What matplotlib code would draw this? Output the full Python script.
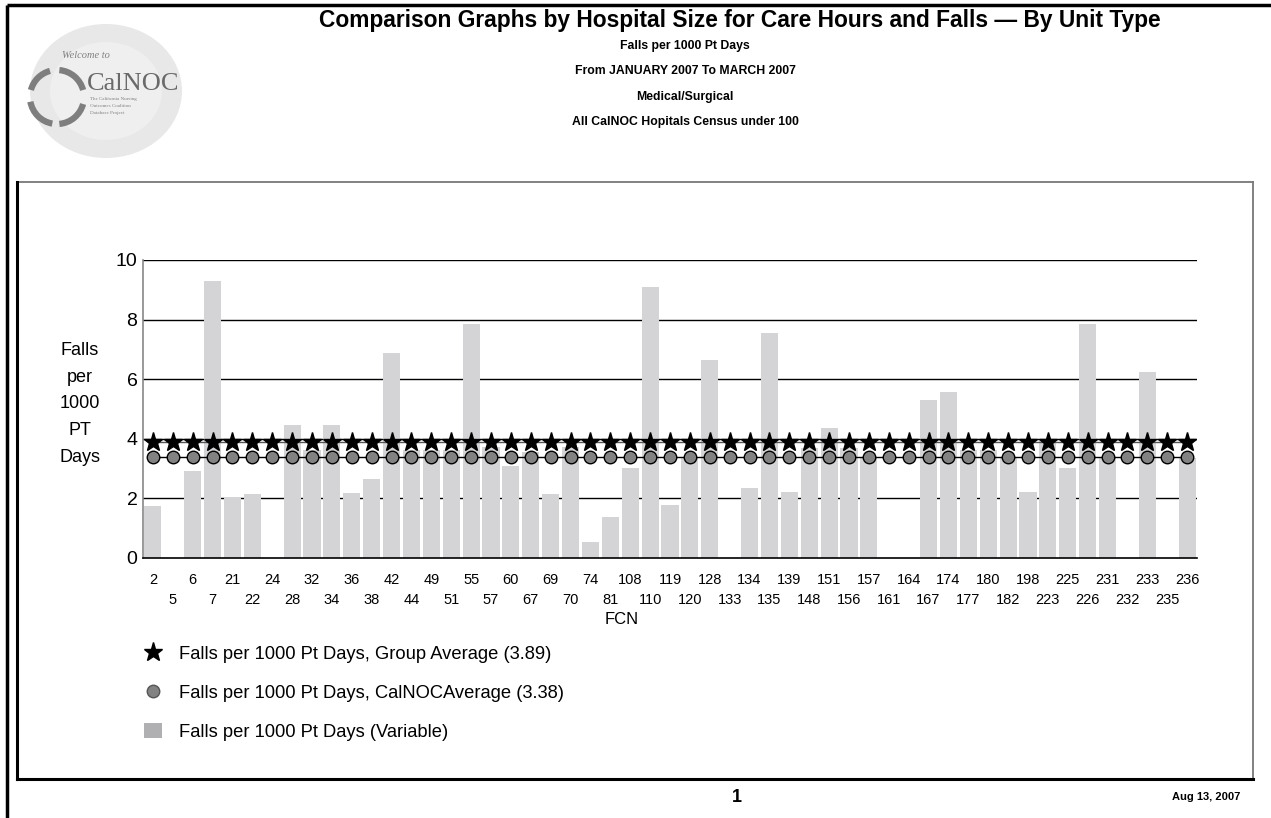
import matplotlib
matplotlib.use("Agg")
import matplotlib.pyplot as plt
from matplotlib.lines import Line2D
from matplotlib.patches import Patch, Ellipse, Arc

plt.rcParams['font.family'] = ['Liberation Sans', 'DejaVu Sans']

# ---------------- data ----------------
fcn = ["2", "5", "6", "7", "21", "22", "24", "28", "32", "34", "36", "38", "42", "44",
       "49", "51", "55", "57", "60", "67", "69", "70", "74", "81", "108", "110", "119",
       "120", "128", "133", "134", "135", "139", "148", "151", "156", "157", "161", "164",
       "167", "174", "177", "180", "182", "198", "223", "225", "226", "231", "232", "233",
       "235", "236"]
falls = [1.74, 0, 2.92, 9.31, 2.05, 2.15, 0, 4.47, 3.63, 4.47, 2.18, 2.65, 6.88, 3.63,
         3.63, 3.63, 7.84, 3.72, 3.08, 3.55, 2.14, 3.72, 0.53, 1.39, 3.02, 9.09, 1.77,
         3.39, 6.66, 0, 2.36, 7.54, 2.20, 3.68, 4.35, 3.68, 3.37, 0, 0,
         5.29, 5.58, 3.62, 3.62, 3.37, 2.20, 3.95, 3.02, 7.84, 3.37, 0, 6.25,
         0, 3.37]
group_avg = 3.89
calnoc_avg = 3.38
yticks = [0, 2, 4, 6, 8, 10]

title = "Comparison Graphs by Hospital Size for Care Hours and Falls \u2014 By Unit Type"
subtitles = ["Falls per 1000 Pt Days", "From JANUARY 2007 To MARCH 2007",
             "Medical/Surgical", "All CalNOC Hopitals Census under 100"]
legend_labels = ["Falls per 1000 Pt Days, Group Average (3.89)",
                 "Falls per 1000 Pt Days, CalNOCAverage (3.38)",
                 "Falls per 1000 Pt Days (Variable)"]

W, H = 1271, 818
fig = plt.figure(figsize=(W / 100, H / 100), dpi=100)

# ---------------- page decoration overlay (pixel coords) ----------------
bg = fig.add_axes([0, 0, 1, 1], zorder=0)
bg.set_xlim(0, W)
bg.set_ylim(H, 0)
bg.axis('off')

# outer page lines
bg.plot([7, W], [5, 5], color='black', lw=2.5, solid_capstyle='butt')
bg.plot([7, 7], [5, H], color='black', lw=2.5, solid_capstyle='butt')
# inner box
bg.plot([17, 1253], [182, 182], color='#777777', lw=1.3)
bg.plot([1253, 1253], [182, 778], color='#777777', lw=1.3)
bg.plot([17, 17], [182, 779], color='black', lw=2.2)
bg.plot([17, 1253], [778.5, 778.5], color='black', lw=2.2)

# logo
bg.add_patch(Ellipse((106, 91), 152, 134, color='#e8e8e8', lw=0))
bg.add_patch(Ellipse((106, 91), 112, 98, color='#efefef', lw=0))
for a1, a2 in [(15, 85), (100, 170), (195, 255), (275, 345)]:
    bg.add_patch(Arc((57, 97), 54, 54, theta1=a1, theta2=a2, color='#7e7e7e', lw=4.5))
bg.text(62, 56, "Welcome to", fontsize=7.5, style='italic', color='#808080',
        family='Liberation Serif', va='center', ha='left')
bg.text(87, 84, "CalNOC", fontsize=19, color='#6a6a6a', family='Liberation Serif',
        va='center', ha='left')
for i, s in enumerate(["The California Nursing", "Outcomes Coalition", "Database Project"]):
    bg.text(90, 99 + i * 7, s, fontsize=3.6, color='#808080', family='Liberation Serif',
            va='center', ha='left')

# titles
bg.text(740, 21, title, fontsize=16.4, fontweight='bold', ha='center', va='center',
        color='black')
for i, s in enumerate(subtitles):
    bg.text(685, 46 + i * 25.5, s, fontsize=8.8, fontweight='bold', ha='center',
            va='center', color='black')

# footer
bg.text(737, 798, "1", fontsize=13, fontweight='bold', ha='center', va='center')
bg.text(1206, 797, "Aug 13, 2007", fontsize=8, fontweight='bold', ha='center', va='center')

# axis labels
bg.text(80, 404, "Falls\nper\n1000\nPT\nDays", fontsize=13, ha='center', va='center',
        linespacing=1.76)
bg.text(622, 619, "FCN", fontsize=12, ha='center', va='center')

# ---------------- main chart ----------------
ax = fig.add_axes([143 / W, 1 - 558 / H, (1197 - 143) / W, (558 - 260) / H], zorder=1)
ax.patch.set_alpha(0)
x = list(range(len(fcn)))

ax.bar(x, falls, width=0.86, color='#d4d4d6', zorder=2)
ax.plot(x, [group_avg] * len(x), color='#555555', lw=1.0, marker='*', ms=14,
        mfc='black', mec='black', zorder=4)
ax.plot(x, [calnoc_avg] * len(x), color='black', lw=1.0, marker='o', ms=9,
        mfc='#828282', mec='black', mew=1.0, zorder=3)

ax.set_xlim(-0.5, len(fcn) - 0.5)
ax.set_ylim(0, 10)
ax.set_yticks(yticks)
ax.set_yticklabels([str(v) for v in yticks], fontsize=14)
for v in yticks[1:]:
    ax.axhline(v, color='black', lw=1.0, zorder=1)

# two staggered rows of FCN labels
ax.set_xticks(x[0::2])
ax.set_xticklabels(fcn[0::2], fontsize=10.5)
ax.set_xticks(x[1::2], minor=True)
ax.set_xticklabels(fcn[1::2], minor=True, fontsize=10.5)
ax.tick_params(axis='x', which='major', length=0, pad=16)
ax.tick_params(axis='x', which='minor', length=0, pad=30)
ax.tick_params(axis='x', which='both', labelsize=10.5)
for lab in ax.get_xticklabels(which='major') + ax.get_xticklabels(which='minor'):
    lab.set_verticalalignment('center')
ax.tick_params(axis='y', length=0, pad=4)
for sp in ['top', 'right']:
    ax.spines[sp].set_visible(False)
ax.spines['left'].set_color('#888888')
ax.spines['left'].set_linewidth(1.2)
ax.spines['bottom'].set_color('black')
ax.spines['bottom'].set_linewidth(1.2)

handles = [Line2D([], [], ls='none', marker='*', ms=14, mfc='black', mec='black'),
           Line2D([], [], ls='none', marker='o', ms=9, mfc='#828282', mec='#555555'),
           Patch(facecolor='#b0b0b2', edgecolor='none')]
fig.legend(handles, legend_labels, loc='upper left',
           bbox_to_anchor=(127 / W, 1 - 629 / H), frameon=False, fontsize=13.2,
           labelspacing=1.15, handlelength=1.0, handleheight=0.85, handletextpad=0.95)

fig.savefig("out.png", dpi=100)
